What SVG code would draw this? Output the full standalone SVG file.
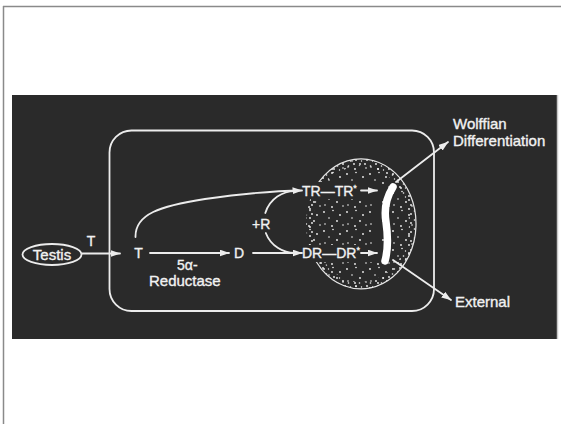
<svg xmlns="http://www.w3.org/2000/svg" width="561" height="424" viewBox="0 0 561 424">
<defs>
<style>
.ln{fill:none;stroke:#ececec;stroke-width:1.8;stroke-linecap:round}
.txt{font-family:"Liberation Sans",Arial,Helvetica,sans-serif;fill:#f2f2f2;stroke:#f2f2f2;stroke-width:0.35;font-size:15px}
.sm{font-size:14px}
.dot{fill:#f4f4f4}
</style>
<marker id="ah" markerUnits="userSpaceOnUse" markerWidth="10" markerHeight="7" refX="9.5" refY="3.5" orient="auto">
<path d="M0,0 L10,3.5 L0,7 Z" fill="#ececec"/>
</marker>
<pattern id="dotsA" patternUnits="userSpaceOnUse" width="23" height="19">
<circle class="dot" cx="2" cy="3" r="0.9"/>
<circle class="dot" cx="11" cy="1.5" r="0.8"/>
<circle class="dot" cx="18" cy="6" r="0.9"/>
<circle class="dot" cx="7" cy="9" r="0.8"/>
<circle class="dot" cx="15" cy="12" r="0.9"/>
<circle class="dot" cx="3" cy="15" r="0.8"/>
<circle class="dot" cx="21" cy="16" r="0.8"/>
<circle class="dot" cx="10" cy="17" r="0.9"/>
</pattern>
<pattern id="dotsB" patternUnits="userSpaceOnUse" width="11" height="9">
<circle class="dot" cx="2" cy="2" r="0.9"/>
<circle class="dot" cx="7.5" cy="4" r="0.8"/>
<circle class="dot" cx="4" cy="7" r="0.9"/>
<circle class="dot" cx="9.5" cy="8" r="0.7"/>
</pattern>
</defs>

<!-- page frame -->
<rect x="0" y="0" width="561" height="424" fill="#ffffff"/>
<line x1="3.5" y1="6" x2="3.5" y2="424" stroke="#8a8a8a" stroke-width="1.5"/>
<line x1="3" y1="6.5" x2="561" y2="6.5" stroke="#8a8a8a" stroke-width="1.5"/>
<rect x="12" y="95" width="545" height="244" fill="#2a2a2a"/>
<line x1="557.5" y1="95" x2="557.5" y2="339" stroke="#c8c8c8" stroke-width="1.5"/>

<g id="cell">
<rect class="ln" x="109.5" y="130.5" width="324.5" height="180.5" rx="22" ry="22"/>
</g>

<g id="nucleus">
<ellipse cx="361" cy="224" rx="55" ry="65" fill="url(#dotsA)"/>
<path d="M306,224 a55,65 0 1,0 110,0 a55,65 0 1,0 -110,0 Z M313,224 a48,58 0 1,0 96,0 a48,58 0 1,0 -96,0 Z" fill="url(#dotsB)" fill-rule="evenodd"/>
<path d="M310.2,199 A55,65 0 1 1 309,245" fill="none" stroke="#e6e6e6" stroke-width="1.2"/>
<rect x="300" y="182" width="80" height="17" fill="#2a2a2a"/>
<rect x="300" y="245" width="80" height="17" fill="#2a2a2a"/>
<rect x="372" y="195" width="8" height="50" fill="#2a2a2a"/>
</g>

<g id="chromatin">
<path d="M393,187 C386,198 384,210 386,222 C388,236 388,250 385,261" fill="none" stroke="#ffffff" stroke-width="7.5" stroke-linecap="round"/>
</g>

<g id="connectors">
<line class="ln" x1="82" y1="253.5" x2="120" y2="253.5" marker-end="url(#ah)"/>
<line class="ln" x1="150" y1="253" x2="229" y2="253" marker-end="url(#ah)"/>
<line class="ln" x1="253" y1="253" x2="302" y2="253" marker-end="url(#ah)"/>
<path class="ln" d="M135.5,237 C135,214 160,206 205,199 C240,194 270,191 302,190.5" marker-end="url(#ah)"/>
<path class="ln" d="M297,191.1 A31,31 0 0 0 265.3,213"/>
<path class="ln" d="M265.8,233 A31,31 0 0 0 297,252.9"/>
<line class="ln" x1="361" y1="190.5" x2="377" y2="190.5" marker-end="url(#ah)"/>
<line class="ln" x1="361" y1="253" x2="377" y2="253" marker-end="url(#ah)"/>
<line class="ln" x1="396" y1="182" x2="448" y2="142" marker-end="url(#ah)"/>
<line class="ln" x1="393" y1="260" x2="451" y2="300" marker-end="url(#ah)"/>
</g>

<g id="node-testis">
<ellipse cx="52" cy="254.5" rx="29.5" ry="10.5" fill="none" stroke="#ececec" stroke-width="1.8"/>
<text class="txt" x="52" y="259.5" text-anchor="middle">Testis</text>
</g>
<g id="label-T-in"><text class="txt sm" x="91" y="246" text-anchor="middle">T</text></g>
<g id="node-T"><text class="txt sm" x="138.5" y="258" text-anchor="middle">T</text></g>
<g id="node-D"><text class="txt sm" x="239" y="258" text-anchor="middle">D</text></g>
<g id="label-reductase">
<text class="txt sm" x="177" y="269.5">5α-</text>
<text class="txt" x="149" y="286">Reductase</text>
</g>
<g id="label-R"><text class="txt sm" x="252" y="228.5">+R</text></g>
<g id="node-TR"><text class="txt sm" x="302" y="196">TR—TR<tspan font-size="9" dy="-5">*</tspan></text></g>
<g id="node-DR"><text class="txt sm" x="302" y="257.5">DR—DR<tspan font-size="9" dy="-5">*</tspan></text></g>
<g id="node-wolffian">
<text class="txt" x="453" y="129">Wolffian</text>
<text class="txt" x="453" y="146">Differentiation</text>
</g>
<g id="node-external"><text class="txt" x="455" y="307">External</text></g>
</svg>
